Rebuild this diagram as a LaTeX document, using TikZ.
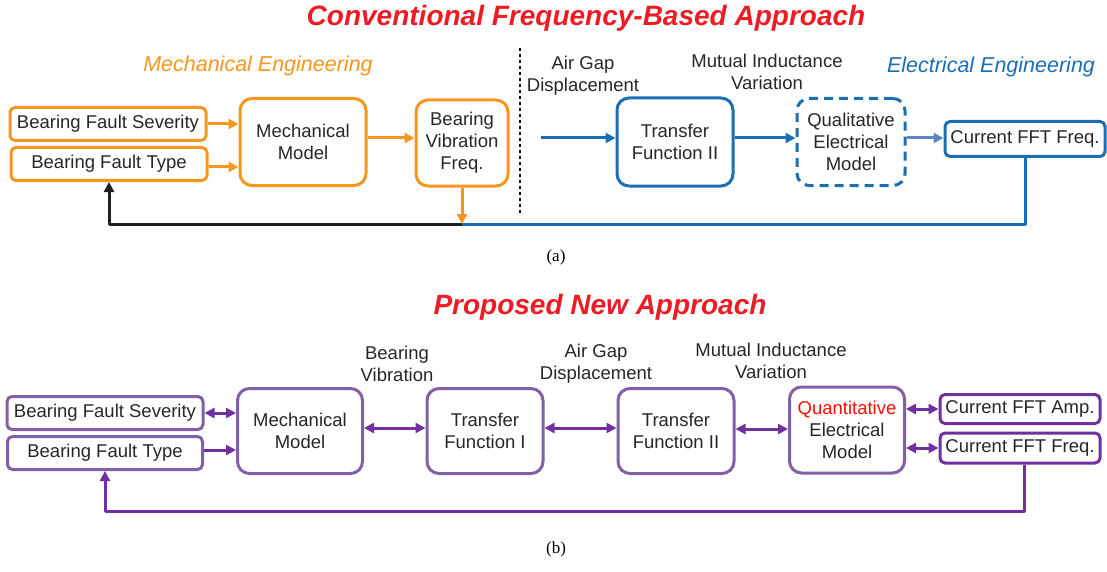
\documentclass[tikz,border=0pt]{standalone}
\usepackage{fontspec}
\setmainfont{Liberation Sans}
\newfontfamily\capfont{Liberation Serif}
\usetikzlibrary{arrows.meta}
\definecolor{mechorange}{RGB}{247,150,29}
\definecolor{elecblue}{RGB}{28,110,180}
\definecolor{lightblue}{RGB}{90,135,195}
\definecolor{arrpurple}{RGB}{112,48,160}
\definecolor{boxpurple}{RGB}{128,96,166}
\definecolor{titlered}{RGB}{237,28,36}
\definecolor{txtgray}{RGB}{38,38,38}
\tikzset{
  blk/.style={draw, line width=3pt, rounded corners=12pt, align=center, inner sep=0pt,
    text=txtgray, font=\fontsize{18.5}{22}\selectfont},
  inbox/.style={blk, rounded corners=5pt},
  lbl/.style={align=center, text=txtgray, font=\fontsize{18.5}{22}\selectfont},
  title/.style={text=titlered, font=\fontsize{28}{32}\selectfont\bfseries\itshape},
  field/.style={font=\fontsize{21.5}{24}\selectfont\itshape},
  flow/.style={line width=3pt, ->},
  both/.style={line width=3pt, <->}
}
\begin{document}
\begin{tikzpicture}[x=1pt, y=-1pt, >={Triangle[length=10pt,width=10pt]}, line join=round]
\useasboundingbox (0,0) rectangle (1107,572);
% (a) conventional approach
\node[title] (ttla) at (586,18) {Conventional Frequency-Based Approach};
\node[field, text=mechorange] (mecheng) at (258,66) {Mechanical Engineering};
\node[field, text=elecblue] (eleceng) at (991,67) {Electrical Engineering};
\draw[dashed, line width=1.5pt] (520,48) -- (520,215);

\node[inbox, draw=mechorange, minimum width=196pt, minimum height=33pt] (sevA) at (108,124) {Bearing Fault Severity};
\node[inbox, draw=mechorange, minimum width=196pt, minimum height=33pt] (typA) at (109,164) {Bearing Fault Type};
\node[blk, draw=mechorange, minimum width=126pt, minimum height=87pt] (mechA) at (303,142) {Mechanical\\Model};
\node[blk, draw=mechorange, minimum width=92pt, minimum height=86pt] (bvfA) at (462,143) {Bearing\\Vibration\\Freq.};
\node[lbl] (agdA) at (583,76) {Air Gap\\Displacement};
\node[blk, draw=elecblue, minimum width=116pt, minimum height=88pt] (tf2A) at (675,142) {Transfer\\Function II};
\node[lbl] (mivA) at (767,72) {Mutual Inductance\\Variation};
\node[blk, draw=elecblue, dashed, dash pattern=on 9pt off 6pt, minimum width=108pt, minimum height=87pt] (qemA) at (851,142) {Qualitative\\Electrical\\Model};
\node[inbox, draw=elecblue, minimum width=160pt, minimum height=35pt] (fftA) at (1025,139) {Current FFT Freq.};

\coordinate (agdin) at (541,138);
\coordinate (joinA) at (462,224);
\draw[flow, mechorange] (sevA.east) -- (mechA.west |- sevA.east);
\draw[flow, mechorange] ([yshift=-3pt]typA.east) -- ([yshift=-3pt]mechA.west |- typA.east);
\draw[flow, mechorange] ([yshift=4pt]mechA.east) -- ([yshift=4pt]mechA.east -| bvfA.west);
\draw[flow, elecblue] (agdin) -- (agdin -| tf2A.west);
\draw[flow, elecblue] (agdin -| tf2A.east) -- (agdin -| qemA.west);
\draw[flow, lightblue] (agdin -| qemA.east) -- (agdin -| fftA.west);
\draw[line width=3pt, elecblue] (fftA.south) |- (joinA);
\draw[flow, black!88] (joinA) -| (typA.south);
\draw[flow, mechorange] (bvfA.south) -- (joinA);

\node[text=black, font=\capfont\fontsize{17}{20}\selectfont] (capa) at (556,257) {(a)};

% (b) proposed approach
\node[title] (ttlb) at (600,307) {Proposed New Approach};
\node[lbl] (bvB) at (397,364) {Bearing\\Vibration};
\node[lbl] (agdB) at (596,364) {Air Gap\\Displacement};
\node[lbl] (mivB) at (771,361) {Mutual Inductance\\Variation};

\node[inbox, draw=boxpurple, minimum width=196pt, minimum height=33pt] (sevB) at (105,413) {Bearing Fault Severity};
\node[inbox, draw=boxpurple, minimum width=195pt, minimum height=33pt] (typB) at (105,453) {Bearing Fault Type};
\node[blk, draw=boxpurple, minimum width=125pt, minimum height=85pt] (mechB) at (300,431) {Mechanical\\Model};
\node[blk, draw=boxpurple, minimum width=116pt, minimum height=85pt] (tf1B) at (485,431) {Transfer\\Function I};
\node[blk, draw=boxpurple, minimum width=116pt, minimum height=85pt] (tf2B) at (676,431) {Transfer\\Function II};
\node[blk, draw=boxpurple, minimum width=115pt, minimum height=86pt] (qemB) at (847,430) {\textcolor{red!90!orange}{Quantitative}\\Electrical\\Model};
\node[inbox, draw=arrpurple, minimum width=160pt, minimum height=29pt] (ampB) at (1020,409) {Current FFT Amp.};
\node[inbox, draw=arrpurple, minimum width=160pt, minimum height=30pt] (frqB) at (1020,448) {Current FFT Freq.};

\draw[both, arrpurple] (sevB.east) -- (mechB.west |- sevB.east);
\draw[flow, arrpurple] ([yshift=3pt]typB.east) -- ([yshift=3pt]mechB.west |- typB.east);
\draw[both, arrpurple] ([yshift=3pt]mechB.east) -- ([yshift=3pt]tf1B.west);
\draw[both, arrpurple] ([yshift=3pt]tf1B.east) -- ([yshift=3pt]tf2B.west);
\draw[both, arrpurple] ([yshift=2pt]tf2B.east) -- ([yshift=2pt]tf2B.east -| qemB.west);
\draw[both, arrpurple] (ampB.west -| qemB.east) -- (ampB.west);
\draw[both, arrpurple] (frqB.west -| qemB.east) -- (frqB.west);
\coordinate (loopB) at (1024,511);
\draw[flow, arrpurple] ([xshift=4pt]frqB.south) |- (loopB) -| (typB.south);

\node[text=black, font=\capfont\fontsize{17}{20}\selectfont] (capb) at (556,549) {(b)};
\end{tikzpicture}
\end{document}
